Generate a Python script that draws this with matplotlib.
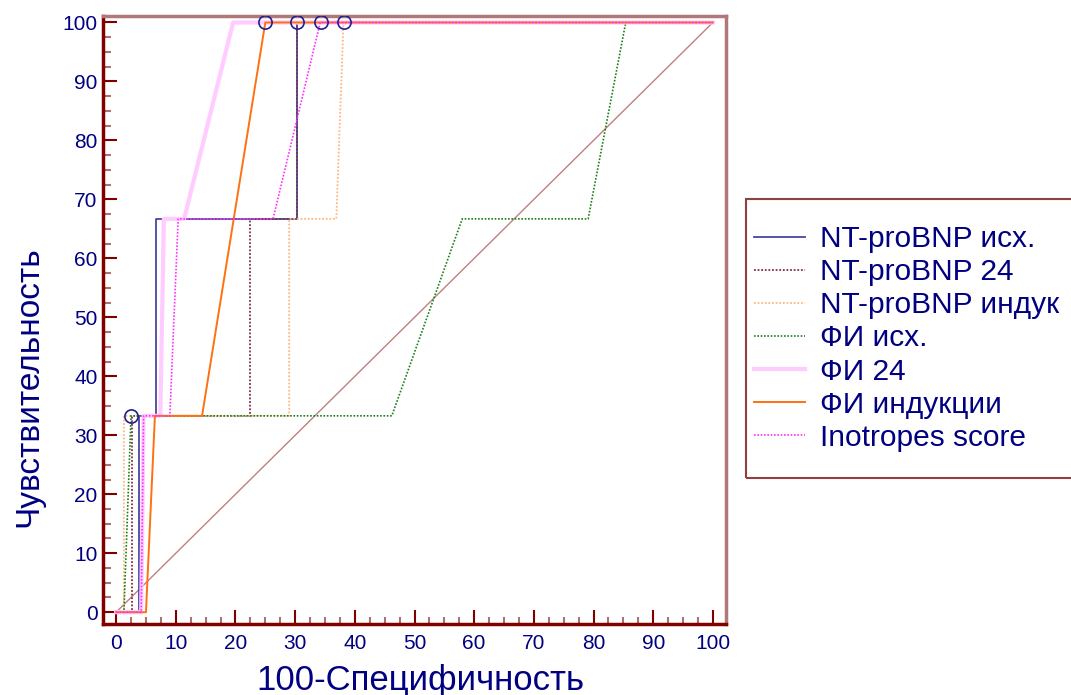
import matplotlib.pyplot as plt
from matplotlib.ticker import MultipleLocator
from matplotlib.patches import Rectangle

plt.rcParams['font.family'] = ['Liberation Sans', 'DejaVu Sans']

# ROC curves: 100-specificity (x) and sensitivity (y)
nt_ish_x = [0, 3.9, 3.9, 6.6, 6.6, 30.3, 30.3, 100]
nt_ish_y = [0, 0, 33.3, 33.3, 66.7, 66.7, 100, 100]

nt_24_x = [0, 2.6, 2.6, 22.4, 22.4, 30.3, 30.3, 100]
nt_24_y = [0, 0, 33.3, 33.3, 66.7, 66.7, 100, 100]

nt_ind_x = [0, 1.3, 1.3, 29.0, 29.0, 36.9, 38.1, 100]
nt_ind_y = [0, 0, 33.3, 33.3, 66.7, 66.7, 100, 100]

fi_ish_x = [0, 1.3, 2.5, 46.2, 58.0, 79.1, 85.4, 100]
fi_ish_y = [0, 0, 33.3, 33.3, 66.7, 66.7, 100, 100]

fi_24_x = [0, 4.2, 4.6, 7.4, 8.0, 11.4, 19.6, 100]
fi_24_y = [0, 0, 33.3, 33.3, 66.7, 66.7, 100, 100]

fi_ind_x = [0, 5.0, 6.5, 14.4, 25.0, 100]
fi_ind_y = [0, 0, 33.3, 33.3, 100, 100]

ino_x = [0, 4.2, 4.6, 9.0, 10.4, 26.3, 34.2, 100]
ino_y = [0, 0, 33.3, 33.3, 66.7, 66.7, 100, 100]

# optimal criterion points
crit_x = [2.5, 25.0, 30.3, 34.3, 38.2]
crit_y = [33.3, 100, 100, 100, 100]

navy = '#000080'

fig = plt.figure(figsize=(10.71, 6.95), dpi=100)
ax = fig.add_axes([103 / 1071, 1 - 624 / 695, 623 / 1071, 608 / 695])

ax.plot([0, 100], [0, 100], color='#c08080', lw=1)

ax.plot(nt_ish_x, nt_ish_y, color='#4848a0', lw=1.3, label='NT-proBNP исх.')
ax.plot(nt_24_x, nt_24_y, color='#803040', lw=1.3, ls=(0, (1, 1)), label='NT-proBNP 24')
ax.plot(nt_ind_x, nt_ind_y, color='#ffb880', lw=1.3, ls=(0, (1, 1)), label='NT-proBNP индук')
ax.plot(fi_ish_x, fi_ish_y, color='#1a801a', lw=1.2, ls=(0, (1, 1)), label='ФИ исх.')
ax.plot(fi_24_x, fi_24_y, color='#ffccff', lw=3, label='ФИ 24')
ax.plot(fi_ind_x, fi_ind_y, color='#ff7010', lw=1.4, label='ФИ индукции')
ax.plot(ino_x, ino_y, color='#ff30ff', lw=1.2, ls=(0, (1, 1)), label='Inotropes score')

ax.plot(crit_x, crit_y, 'o', ms=9.5, mfc='none', mec='#202090', mew=1.2, zorder=5)

ax.set_xlim(-2.2, 102.2)
ax.set_ylim(-2.0, 101.1)

ax.xaxis.set_major_locator(MultipleLocator(10))
ax.xaxis.set_minor_locator(MultipleLocator(2.5))
ax.yaxis.set_major_locator(MultipleLocator(10))
ax.yaxis.set_minor_locator(MultipleLocator(2.5))

ax.tick_params(which='major', direction='in', length=10, width=1.5, color='#800000',
               labelsize=15, labelcolor=navy)
ax.tick_params(which='minor', direction='in', length=6, width=1.5, color='#b07070')
ax.tick_params(axis='x', which='major', pad=7)
ax.tick_params(axis='x', which='minor', length=5)
ax.tick_params(axis='y', which='major', pad=4)

ax.spines['left'].set_color('#800000')
ax.spines['bottom'].set_color('#800000')
ax.spines['top'].set_color('#b07878')
ax.spines['right'].set_color('#b07878')
for s in ax.spines.values():
    s.set_linewidth(2.5)

ax.set_xlabel('100-Специфичность', fontsize=25, color=navy)
ax.xaxis.set_label_coords(0.51, -0.066)
ax.set_ylabel('Чувствительность', fontsize=24, color=navy)
ax.yaxis.set_label_coords(-0.094, 0.39)

# legend box
fig.patches.append(Rectangle((746 / 1071, 1 - 478 / 695), 0.32, 279 / 695,
                             transform=fig.transFigure, fill=False,
                             edgecolor='#904040', lw=1.5))
fig.legend(loc='center left', bbox_to_anchor=(754 / 1071, 1 - 338.5 / 695),
           borderaxespad=0, borderpad=0, frameon=False, fontsize=21.5,
           labelcolor=navy, handlelength=1.7, handletextpad=0.5, labelspacing=0.17)

fig.savefig('out.png', dpi=100)
